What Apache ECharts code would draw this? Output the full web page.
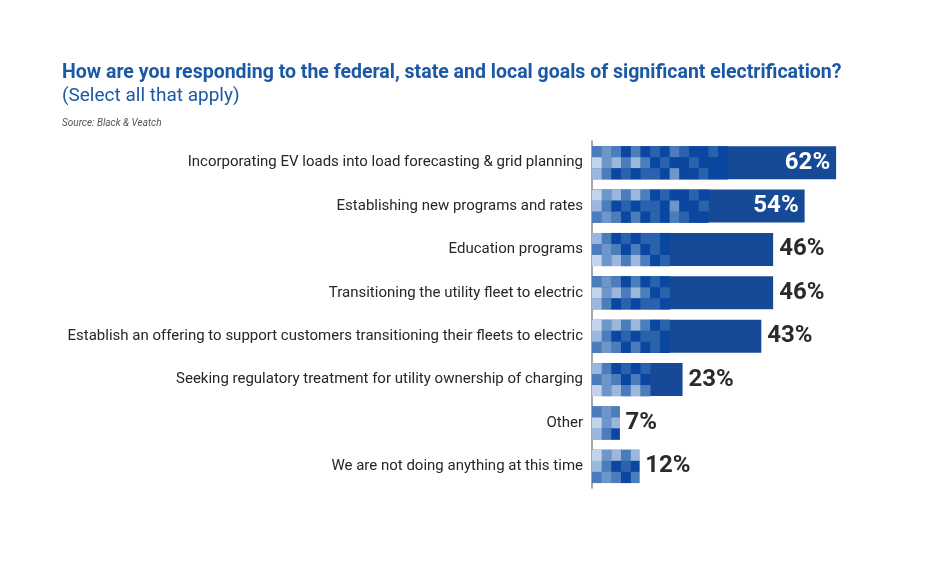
<!DOCTYPE html>
<html>
<head>
<meta charset="utf-8">
<script src="https://cdn.jsdelivr.net/npm/echarts@6/dist/echarts.min.js"></script>
<style>
  html, body { margin: 0; padding: 0; background: #fff; }
  #chart { width: 936px; height: 562px; }
</style>
</head>
<body>
<div id="chart"></div>
<script>
'use strict'

var categories = [
  'Incorporating EV loads into load forecasting & grid planning',
  'Establishing new programs and rates',
  'Education programs',
  'Transitioning the utility fleet to electric',
  'Establish an offering to support customers transitioning their fleets to electric',
  'Seeking regulatory treatment for utility ownership of charging',
  'Other',
  'We are not doing anything at this time'
];
var percents = [62, 54, 46, 46, 43, 23, 7, 12];

// how many mosaic columns sit on the left of each bar (decoration only)
var mosaicCols = [14, 12, 8, 8, 8, 6, 3, 5];
var shades = ['#c3d4ea', '#9bb8dc', '#6e96cb', '#4b7dbd', '#2a62ad', '#0a47a0'];
var mosaic = [
  [3, 2, 3, 5, 3, 5, 4, 5, 3, 4, 5, 5, 4, 5],
  [0, 2, 1, 3, 1, 3, 5, 4, 5, 5, 4, 5, 5, 5],
  [1, 3, 5, 4, 5, 4, 4, 5, 2, 5, 5, 4, 5, 5]
];
var barColor = '#164a97';

var chart = echarts.init(document.getElementById('chart'));

var option = {
  backgroundColor: '#ffffff',
  animation: false,
  title: [
    {
      text: 'How are you responding to the federal, state and local goals of significant electrification?',
      left: 62, top: 63, padding: 0,
      textStyle: { fontFamily: 'Roboto', fontSize: 19.5, fontWeight: 'bold', color: '#1b59a6' }
    },
    {
      text: '(Select all that apply)',
      left: 62, top: 87, padding: 0,
      textStyle: { fontFamily: 'Roboto', fontSize: 19, fontWeight: 'normal', color: '#1b59a6' }
    },
    {
      text: 'Source: Black & Veatch',
      left: 62, top: 118, padding: 0,
      textStyle: { fontFamily: 'Roboto', fontSize: 10, fontStyle: 'italic', fontWeight: 'normal', color: '#555' }
    }
  ],
  grid: { left: 592, top: 141, width: 315, height: 347 },
  xAxis: {
    type: 'value',
    min: 0, max: 80,
    show: false
  },
  yAxis: {
    type: 'category',
    inverse: true,
    data: categories,
    axisTick: { show: false },
    axisLine: { lineStyle: { color: '#8a8a8a', width: 1.5 } },
    axisLabel: {
      margin: 9,
      fontFamily: 'Roboto',
      fontSize: 15,
      color: '#262626',
      padding: [8, 0, 0, 0]
    }
  },
  series: [
    {
      type: 'bar',
      data: percents,
      barWidth: 33,
      itemStyle: { color: barColor },
      label: {
        show: true,
        formatter: '{c}%',
        fontFamily: 'Roboto',
        fontWeight: 'bold',
        fontSize: 24,
        position: 'right',
        distance: 6,
        color: '#2b2b2b'
      },
      z: 2
    },
    {
      type: 'custom',
      data: percents.map(function (v, i) { return [v, i]; }),
      z: 3,
      renderItem: function (params, api) {
        var i = params.dataIndex;
        var start = api.coord([0, api.value(1)]);
        var end = api.coord([api.value(0), api.value(1)]);
        var h = 33;
        var top = start[1] - h / 2;
        var cw = 9.7, chh = h / 3;
        var kids = [];
        for (var c = 0; c < mosaicCols[i]; c++) {
          var x = start[0] + c * cw;
          var w = Math.min(cw, end[0] - x);
          if (w <= 0) break;
          for (var r = 0; r < 3; r++) {
            var row = mosaic[(r + i) % 3];
            kids.push({
              type: 'rect',
              shape: { x: x, y: top + r * chh, width: w + 0.3, height: chh + 0.3 },
              style: { fill: shades[row[c]] }
            });
          }
        }
        return { type: 'group', children: kids };
      }
    }
  ]
};

// first two labels sit inside the bar in white
option.series[0].data = percents.map(function (v, i) {
  if (i < 2) {
    return { value: v, label: { position: 'insideRight', color: '#ffffff', distance: 6 } };
  }
  return v;
});

chart.setOption(option);
</script>
</body>
</html>
